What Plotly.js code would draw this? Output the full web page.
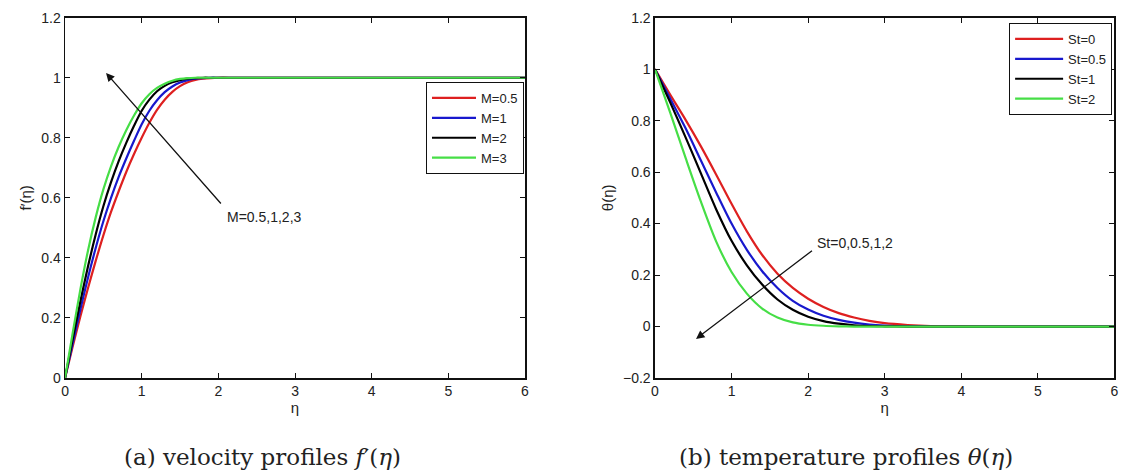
<!DOCTYPE html>
<html>
<head>
<meta charset="utf-8">
<script src="https://cdn.plot.ly/plotly-3.0.1.min.js"></script>
<style>
html,body{margin:0;padding:0;background:#fff;}
#chart{width:1131px;height:474px;}
</style>
</head>
<body>
<div id="chart"></div>
<script>
// ---- Data ----
// (a) velocity profiles f'(eta)
const etaA = [0, 0.1, 0.2, 0.3, 0.4, 0.5, 0.6, 0.7, 0.8, 0.9, 1.0, 1.1, 1.2, 1.3, 1.4, 1.5, 1.6, 1.7, 1.8, 1.9, 2.0, 2.2, 2.5, 3, 4, 5, 6];
const fM05 = [0, 0.105, 0.205, 0.30, 0.39, 0.475, 0.553, 0.622, 0.687, 0.746, 0.80, 0.85, 0.893, 0.927, 0.953, 0.972, 0.985, 0.993, 0.997, 0.999, 1.0, 1.0, 1.0, 1.0, 1.0, 1.0, 1.0];
const fM1  = [0, 0.115, 0.228, 0.335, 0.433, 0.522, 0.60, 0.67, 0.732, 0.79, 0.845, 0.89, 0.925, 0.952, 0.971, 0.984, 0.992, 0.997, 0.999, 1.0, 1.0, 1.0, 1.0, 1.0, 1.0, 1.0, 1.0];
const fM2  = [0, 0.13, 0.255, 0.372, 0.478, 0.572, 0.652, 0.722, 0.784, 0.84, 0.89, 0.927, 0.955, 0.973, 0.985, 0.992, 0.997, 0.999, 1.0, 1.0, 1.0, 1.0, 1.0, 1.0, 1.0, 1.0, 1.0];
const fM3  = [0, 0.15, 0.295, 0.425, 0.535, 0.628, 0.705, 0.77, 0.826, 0.874, 0.915, 0.945, 0.966, 0.98, 0.99, 0.996, 0.999, 1.0, 1.0, 1.0, 1.0, 1.0, 1.0, 1.0, 1.0, 1.0, 1.0];
const namesA = ['M=0.5', 'M=1', 'M=2', 'M=3'];

// (b) temperature profiles theta(eta)
const etaB = [0, 0.2, 0.4, 0.6, 0.8, 1.0, 1.2, 1.4, 1.6, 1.8, 2.0, 2.2, 2.4, 2.6, 2.8, 3.0, 3.3, 3.6, 4, 4.5, 5, 6];
const tSt0   = [1, 0.90, 0.803, 0.70, 0.59, 0.477, 0.37, 0.278, 0.205, 0.15, 0.108, 0.076, 0.052, 0.035, 0.022, 0.013, 0.006, 0.002, 0.0005, 0, 0, 0];
const tSt05  = [1, 0.885, 0.77, 0.645, 0.52, 0.40, 0.298, 0.215, 0.15, 0.10, 0.066, 0.042, 0.026, 0.015, 0.008, 0.004, 0.001, 0, 0, 0, 0, 0];
const tSt1   = [1, 0.87, 0.735, 0.595, 0.455, 0.333, 0.238, 0.163, 0.105, 0.065, 0.038, 0.021, 0.011, 0.005, 0.002, 0.001, 0, 0, 0, 0, 0, 0];
const tSt2   = [1, 0.83, 0.655, 0.485, 0.33, 0.212, 0.128, 0.07, 0.035, 0.016, 0.007, 0.003, 0.001, 0, 0, 0, 0, 0, 0, 0, 0, 0];
const namesB = ['St=0', 'St=0.5', 'St=1', 'St=2'];

const xTicks = [0, 1, 2, 3, 4, 5, 6];
const yTicksA = [0, 0.2, 0.4, 0.6, 0.8, 1, 1.2];
const yTicksB = [-0.2, 0, 0.2, 0.4, 0.6, 0.8, 1, 1.2];

// ---- Styles ----
const colors = ['rgb(222,32,32)', 'rgb(24,24,205)', 'rgb(0,0,0)', 'rgb(70,222,70)'];
const seriesA = [fM05, fM1, fM2, fM3];
const seriesB = [tSt0, tSt05, tSt1, tSt2];

const traces = [];
seriesA.forEach((ys, i) => traces.push({
  x: etaA, y: ys, type: 'scatter', mode: 'lines', name: namesA[i],
  line: {color: colors[i], width: 2.2, shape: 'spline', smoothing: 0.8},
  xaxis: 'x', yaxis: 'y', legend: 'legend'
}));
seriesB.forEach((ys, i) => traces.push({
  x: etaB, y: ys, type: 'scatter', mode: 'lines', name: namesB[i],
  line: {color: colors[i], width: 2.2, shape: 'spline', smoothing: 0.8},
  xaxis: 'x2', yaxis: 'y2', legend: 'legend2'
}));

const sans = 'Liberation Sans, Arial, sans-serif';
const tickFont = {family: sans, size: 14, color: '#222'};
const axisCommon = {
  showline: true, linecolor: '#111', linewidth: 1.5, mirror: 'ticks',
  ticks: 'inside', ticklen: 5, tickwidth: 1, tickcolor: '#111',
  showgrid: false, zeroline: false, tickfont: tickFont, fixedrange: true
};
const titleFont = {family: sans, size: 15, color: '#222'};
const capFont = {family: 'DejaVu Serif, serif', size: 23, color: '#222'};

const layout = {
  width: 1131, height: 474,
  margin: {l: 0, r: 0, t: 0, b: 0},
  paper_bgcolor: '#fff', plot_bgcolor: '#fff',
  showlegend: true,
  xaxis: Object.assign({}, axisCommon, {
    domain: [0.0575, 0.4642], range: [0, 6], tickvals: xTicks, anchor: 'y',
    title: {text: 'η', font: titleFont, standoff: 4}
  }),
  yaxis: Object.assign({}, axisCommon, {
    domain: [0.2025, 0.9627], range: [0, 1.2], tickvals: yTicksA, anchor: 'x',
    title: {text: 'f′(η)', font: titleFont, standoff: 6}
  }),
  xaxis2: Object.assign({}, axisCommon, {
    domain: [0.5791, 0.9854], range: [0, 6], tickvals: xTicks, anchor: 'y2',
    title: {text: 'η', font: titleFont, standoff: 4}
  }),
  yaxis2: Object.assign({}, axisCommon, {
    domain: [0.2025, 0.9627], range: [-0.2, 1.2], tickvals: yTicksB, anchor: 'x2',
    title: {text: 'θ(η)', font: titleFont, standoff: 6}
  }),
  legend: {
    x: 0.4633, xanchor: 'right', y: 0.827, yanchor: 'top',
    bgcolor: '#fff', bordercolor: '#111', borderwidth: 1, itemwidth: 44,
    font: {family: sans, size: 13, color: '#222'},
    tracegroupgap: 0, itemclick: false
  },
  legend2: {
    x: 0.9833, xanchor: 'right', y: 0.9515, yanchor: 'top',
    bgcolor: '#fff', bordercolor: '#111', borderwidth: 1, itemwidth: 48,
    font: {family: sans, size: 13, color: '#222'},
    tracegroupgap: 0, itemclick: false
  },
  annotations: [
    {xref: 'x', yref: 'y', axref: 'x', ayref: 'y', x: 0.535, y: 1.016, ax: 2.05, ay: 0.576,
     text: '', showarrow: true, arrowhead: 2, arrowsize: 1.3, arrowwidth: 1.3, arrowcolor: '#111'},
    {xref: 'x', yref: 'y', x: 2.09, y: 0.536, xanchor: 'left', yanchor: 'middle',
     text: 'M=0.5,1,2,3', showarrow: false, font: {family: sans, size: 14, color: '#222'}},
    {xref: 'x2', yref: 'y2', axref: 'x2', ayref: 'y2', x: 0.536, y: -0.048, ax: 2.07, ay: 0.299,
     text: '', showarrow: true, arrowhead: 2, arrowsize: 1.3, arrowwidth: 1.3, arrowcolor: '#111'},
    {xref: 'x2', yref: 'y2', x: 2.09, y: 0.326, xanchor: 'left', yanchor: 'middle',
     text: 'St=0,0.5,1,2', showarrow: false, font: {family: sans, size: 14, color: '#222'}},
    {xref: 'paper', yref: 'paper', x: 0.2325, y: 0.036, xanchor: 'center', yanchor: 'middle',
     text: '(a) velocity profiles <i>f</i>′(<i>η</i>)', showarrow: false, font: capFont},
    {xref: 'paper', yref: 'paper', x: 0.748, y: 0.036, xanchor: 'center', yanchor: 'middle',
     text: '(b) temperature profiles <i>θ</i>(<i>η</i>)', showarrow: false, font: capFont}
  ]
};

Plotly.newPlot('chart', traces, layout, {displayModeBar: false, staticPlot: true});
</script>
</body>
</html>
